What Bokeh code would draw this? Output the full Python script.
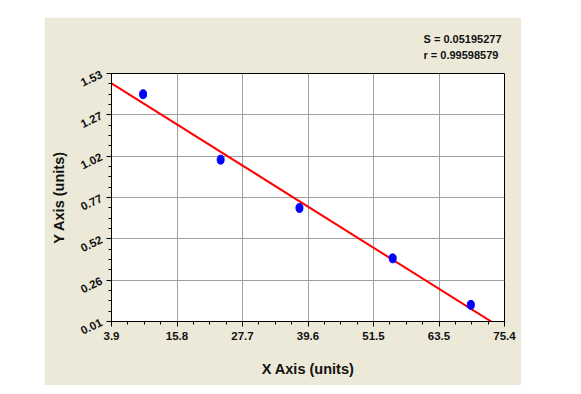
import numpy as np
from bokeh.plotting import figure
from bokeh.models import FixedTicker, Title, Spacer
from bokeh.layouts import row, column
from bokeh.embed import file_html
from bokeh.resources import INLINE

# data
x_vals = [9.65, 23.76, 38.1, 55.06, 69.28]
y_vals = [1.403, 1.002, 0.706, 0.397, 0.112]
x_tick_labels = ["3.9", "15.8", "27.7", "39.6", "51.5", "63.5", "75.4"]
y_tick_labels = ["0.01", "0.26", "0.52", "0.77", "1.02", "1.27", "1.53"]
stats_lines = ["S = 0.05195277", "r = 0.99598579"]
x_title = "X Axis (units)"
y_title = "Y Axis (units)"

x_min, x_max = float(x_tick_labels[0]), float(x_tick_labels[-1])
y_min, y_max = float(y_tick_labels[0]), float(y_tick_labels[-1])

BEIGE = "#ECE9D8"
FONT = "Liberation Sans"

p = figure(width=477, height=368, output_backend="svg", toolbar_location=None,
           x_range=(x_min, x_max), y_range=(y_min, y_max),
           min_border_left=67, min_border_right=17, min_border_top=56, min_border_bottom=64)
p.background_fill_color = "white"
p.border_fill_color = BEIGE
p.outline_line_color = "black"
p.outline_line_width = 1

xt = np.linspace(x_min, x_max, len(x_tick_labels))
yt = np.linspace(y_min, y_max, len(y_tick_labels))
xminor = np.linspace(x_min, x_max, (len(x_tick_labels) - 1) * 4 + 1)
yminor = np.linspace(y_min, y_max, (len(y_tick_labels) - 1) * 4 + 1)

p.xaxis.ticker = FixedTicker(ticks=list(xt), minor_ticks=list(xminor))
p.yaxis.ticker = FixedTicker(ticks=list(yt), minor_ticks=list(yminor))
p.xaxis.major_label_overrides = {float(t): l for t, l in zip(xt, x_tick_labels)}
p.yaxis.major_label_overrides = {float(t): l for t, l in zip(yt, y_tick_labels)}

for ax in (p.xaxis, p.yaxis):
    ax.axis_line_color = "black"
    ax.major_tick_line_color = "black"
    ax.minor_tick_line_color = "black"
    ax.major_tick_out = 5
    ax.major_tick_in = 0
    ax.minor_tick_out = 3
    ax.minor_tick_in = 0
    ax.major_label_text_font = FONT
    ax.major_label_text_font_style = "bold"
    ax.major_label_text_font_size = "11.5px"
    ax.major_label_text_color = "#111111"
    ax.axis_label_text_font = FONT
    ax.axis_label_text_font_style = "bold"
    ax.axis_label_text_font_size = "14.5px"
    ax.axis_label_text_color = "#111111"

p.xaxis.axis_label = x_title
p.yaxis.axis_label = y_title
p.yaxis.major_label_orientation = 0.45
p.xaxis.axis_label_standoff = 18
p.yaxis.axis_label_standoff = 8

p.grid.grid_line_color = "#A0A0A0"
p.grid.grid_line_width = 1
p.grid.grid_line_alpha = 1.0

# regression line from data
slope, intercept = np.polyfit(x_vals, y_vals, 1)
lx = [x_min, x_max]
ly = [slope * v + intercept for v in lx]
p.line(lx, ly, line_color="red", line_width=2)

p.ellipse(x=x_vals, y=y_vals, width=7, height=9, width_units="screen", height_units="screen",
          fill_color="#0000FF", line_color="#0000FF")

p.add_layout(Title(text="\n".join(stats_lines), align="right", offset=3, standoff=24,
                   text_font=FONT, text_font_style="bold", text_font_size="11px",
                   text_line_height=1.36, text_color="#111111"), "above")

layout = row(Spacer(width=44), column(Spacer(height=17), p))
layout.background = "white"

open("out.html", "w").write(file_html(layout, INLINE))
